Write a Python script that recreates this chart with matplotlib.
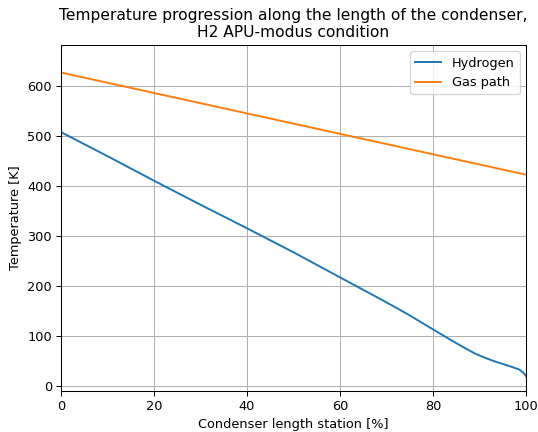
import numpy as np
import matplotlib.pyplot as plt

# condenser length station [%]
station_h2 = [0, 10, 20, 30, 40, 50, 60, 70, 75, 80, 84, 87, 89, 91, 93, 95, 97, 98.5, 99.5, 100]
temp_h2 = [508, 460, 411, 363, 316, 268, 218, 168, 142, 114, 92, 76, 66, 58, 51, 45, 39, 34, 27, 21]

station_gas = [0, 25, 50, 75, 100]
temp_gas = [627, 576, 525, 474, 423]

dpi = 93
fig = plt.figure(figsize=(538 / dpi, 432 / dpi), dpi=dpi)
ax = fig.add_axes([0.1134, 0.0949, 0.8643, 0.8009])

ax.plot(station_h2, temp_h2, label='Hydrogen')
ax.plot(station_gas, temp_gas, label='Gas path')

ax.set_xlim(0, 100)
ax.set_ylim(-9, 682)
ax.grid(True)
ax.legend(loc='upper right')
ax.set_xlabel('Condenser length station [%]')
ax.set_ylabel('Temperature [K]')
ax.set_title('Temperature progression along the length of the condenser,\nH2 APU-modus condition')

fig.savefig('out.png', dpi=dpi)
